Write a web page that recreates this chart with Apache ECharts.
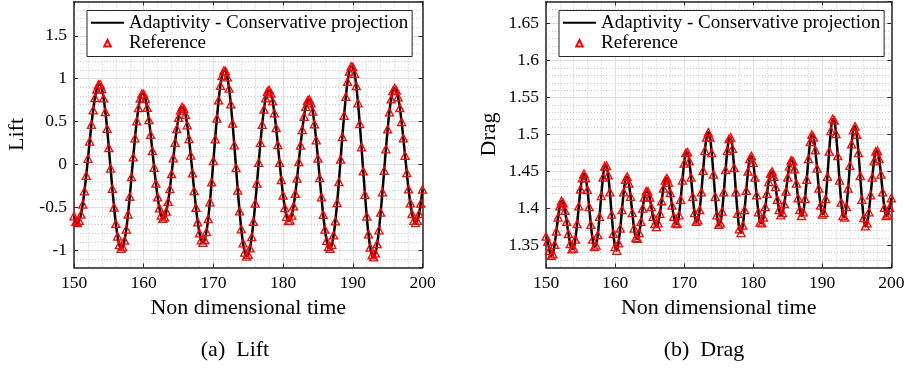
<!DOCTYPE html>
<html><head><meta charset="utf-8">
<script src="https://cdn.jsdelivr.net/npm/echarts@6/dist/echarts.min.js"></script>
<style>html,body{margin:0;padding:0;background:#fff}#c{width:909px;height:368px}</style>
</head><body><div id="c"></div>
<script>
// Sampling times (non dimensional time)
const time = [150,150.25,150.5,150.75,151,151.25,151.5,151.75,152,152.25,152.5,152.75,153,153.25,153.5,153.75,154,154.25,154.5,154.75,
155,155.25,155.5,155.75,156,156.25,156.5,156.75,157,157.25,157.5,157.75,158,158.25,158.5,158.75,159,159.25,159.5,159.75,
160,160.25,160.5,160.75,161,161.25,161.5,161.75,162,162.25,162.5,162.75,163,163.25,163.5,163.75,164,164.25,164.5,164.75,
165,165.25,165.5,165.75,166,166.25,166.5,166.75,167,167.25,167.5,167.75,168,168.25,168.5,168.75,169,169.25,169.5,169.75,
170,170.25,170.5,170.75,171,171.25,171.5,171.75,172,172.25,172.5,172.75,173,173.25,173.5,173.75,174,174.25,174.5,174.75,
175,175.25,175.5,175.75,176,176.25,176.5,176.75,177,177.25,177.5,177.75,178,178.25,178.5,178.75,179,179.25,179.5,179.75,
180,180.25,180.5,180.75,181,181.25,181.5,181.75,182,182.25,182.5,182.75,183,183.25,183.5,183.75,184,184.25,184.5,184.75,
185,185.25,185.5,185.75,186,186.25,186.5,186.75,187,187.25,187.5,187.75,188,188.25,188.5,188.75,189,189.25,189.5,189.75,
190,190.25,190.5,190.75,191,191.25,191.5,191.75,192,192.25,192.5,192.75,193,193.25,193.5,193.75,194,194.25,194.5,194.75,
195,195.25,195.5,195.75,196,196.25,196.5,196.75,197,197.25,197.5,197.75,198,198.25,198.5,198.75,199,199.25,199.5,199.75,200];

const lift = [-0.600,-0.665,-0.680,-0.655,-0.581,-0.464,-0.309,-0.128,0.070,0.271,0.464,0.635,0.776,0.875,0.931,0.935,0.882,0.773,0.615,0.418,
0.194,-0.044,-0.280,-0.500,-0.690,-0.836,-0.937,-0.979,-0.961,-0.885,-0.755,-0.580,-0.373,-0.145,0.087,0.309,0.505,0.661,0.772,0.825,
0.821,0.765,0.662,0.520,0.348,0.158,-0.035,-0.220,-0.380,-0.508,-0.593,-0.629,-0.613,-0.546,-0.433,-0.283,-0.109,0.076,0.256,0.417,
0.546,0.632,0.669,0.652,0.581,0.460,0.300,0.108,-0.099,-0.308,-0.503,-0.671,-0.799,-0.882,-0.910,-0.878,-0.784,-0.633,-0.437,-0.206,
0.044,0.297,0.538,0.750,0.920,1.037,1.095,1.088,1.018,0.887,0.703,0.479,0.227,-0.038,-0.300,-0.543,-0.752,-0.916,-1.023,-1.069,
-1.051,-0.974,-0.843,-0.666,-0.454,-0.221,0.021,0.254,0.466,0.643,0.774,0.851,0.869,0.830,0.738,0.600,0.427,0.229,0.022,-0.178,
-0.358,-0.504,-0.606,-0.656,-0.650,-0.592,-0.485,-0.339,-0.162,0.030,0.224,0.405,0.559,0.674,0.743,0.759,0.717,0.620,0.472,0.285,
0.071,-0.156,-0.379,-0.584,-0.757,-0.886,-0.961,-0.979,-0.933,-0.824,-0.659,-0.448,-0.203,0.059,0.322,0.571,0.790,0.965,1.086,1.145,
1.137,1.060,0.917,0.717,0.475,0.204,-0.078,-0.352,-0.603,-0.811,-0.966,-1.057,-1.079,-1.033,-0.926,-0.764,-0.558,-0.321,-0.070,0.180,
0.412,0.611,0.762,0.858,0.890,0.863,0.785,0.660,0.498,0.308,0.105,-0.098,-0.288,-0.450,-0.575,-0.653,-0.680,-0.654,-0.576,-0.453,-0.290];

const drag = [1.362,1.355,1.343,1.336,1.338,1.351,1.369,1.388,1.403,1.410,1.407,1.397,1.382,1.366,1.352,1.345,1.346,1.358,1.379,1.403,
1.426,1.441,1.447,1.441,1.425,1.402,1.378,1.358,1.348,1.350,1.364,1.389,1.417,1.442,1.457,1.458,1.445,1.422,1.392,1.366,
1.348,1.343,1.353,1.373,1.398,1.422,1.439,1.443,1.434,1.416,1.394,1.373,1.360,1.359,1.367,1.382,1.400,1.415,1.423,1.423,
1.415,1.402,1.389,1.379,1.375,1.380,1.393,1.410,1.427,1.438,1.441,1.435,1.421,1.404,1.389,1.380,1.379,1.391,1.412,1.438,
1.461,1.475,1.476,1.464,1.442,1.416,1.394,1.382,1.384,1.398,1.422,1.451,1.478,1.496,1.503,1.496,1.475,1.446,1.416,1.391,
1.378,1.380,1.396,1.422,1.452,1.478,1.494,1.496,1.481,1.455,1.422,1.393,1.372,1.367,1.377,1.398,1.424,1.450,1.467,1.471,
1.462,1.442,1.418,1.395,1.381,1.380,1.388,1.402,1.420,1.436,1.447,1.450,1.443,1.429,1.412,1.398,1.391,1.394,1.406,1.423,
1.442,1.457,1.465,1.464,1.453,1.434,1.414,1.398,1.390,1.395,1.413,1.439,1.467,1.490,1.500,1.496,1.479,1.454,1.427,1.404,
1.392,1.394,1.413,1.443,1.477,1.505,1.521,1.519,1.501,1.471,1.438,1.408,1.390,1.388,1.402,1.427,1.458,1.487,1.506,1.511,
1.500,1.475,1.444,1.412,1.387,1.376,1.380,1.395,1.418,1.442,1.464,1.477,1.478,1.467,1.446,1.422,1.401,1.390,1.392,1.401,1.414];

const seriesNames = ['Adaptivity - Conservative projection', 'Reference'];
const xLabel = 'Non dimensional time';
const yLabels = ['Lift', 'Drag'];
const captions = ['(a)  Lift', '(b)  Drag'];

const FONT = '"Liberation Serif", "DejaVu Serif", serif';
const AX = '#262626';
const MAJ = '#dedede';
const MIN = '#cacaca';

const grids = [
  {left: 74, top: 1.5, width: 348.5, height: 266},
  {left: 546, top: 1.5, width: 345.3, height: 266}
];
const yRange = [{min: -1.2, max: 1.9, split: 6, minor: 0.1}, {min: 1.32, max: 1.68, split: 7, minor: 0.01}];

const xAxis = [], yAxis = [], series = [], legend = [];
[lift, drag].forEach((vals, g) => {
  const xi = xAxis.length;
  xAxis.push({
    gridIndex: g, type: 'value', min: 150, max: 200, interval: 10, position: 'bottom',
    name: xLabel, nameLocation: 'middle', nameGap: 28,
    nameTextStyle: {fontFamily: FONT, fontSize: 22, color: '#000'},
    axisLine: {show: true, onZero: false, lineStyle: {color: AX, width: 1.5}},
    axisTick: {show: true, inside: true, length: 4, lineStyle: {color: AX, width: 1}},
    axisLabel: {fontFamily: FONT, fontSize: 17.5, color: '#000', margin: 7},
    splitLine: {show: true, lineStyle: {color: MAJ, width: 1}},
    minorTick: {show: false, splitNumber: 5},
    minorSplitLine: {show: true, lineStyle: {color: MIN, width: 1, type: [1, 2]}}
  });
  xAxis.push({
    gridIndex: g, type: 'value', min: 150, max: 200, interval: 10, position: 'top',
    axisLine: {show: true, onZero: false, lineStyle: {color: AX, width: 1.5}},
    axisTick: {show: true, inside: true, length: 4, lineStyle: {color: AX, width: 1}},
    axisLabel: {show: false}, splitLine: {show: false}
  });
  const r = yRange[g];
  // minor grid axis
  yAxis.push({
    gridIndex: g, type: 'value', min: r.min, max: r.max, interval: r.minor, position: 'right',
    axisLine: {show: false}, axisTick: {show: false}, axisLabel: {show: false},
    splitLine: {show: true, lineStyle: {color: MIN, width: 1, type: [1, 2]}}
  });
  const ymain = yAxis.length;
  yAxis.push({
    gridIndex: g, type: 'value', min: r.min, max: r.max, splitNumber: r.split, position: 'left',
    name: yLabels[g], nameLocation: 'middle', nameGap: 46,
    nameTextStyle: {fontFamily: FONT, fontSize: 22, color: '#000'},
    axisLine: {show: true, onZero: false, lineStyle: {color: AX, width: 1.5}},
    axisTick: {show: true, inside: true, length: 4, lineStyle: {color: AX, width: 1}},
    axisLabel: {fontFamily: FONT, fontSize: 17.5, color: '#000', margin: 7, showMinLabel: false, showMaxLabel: false},
    splitLine: {show: true, lineStyle: {color: MAJ, width: 1}}
  });
  yAxis.push({
    gridIndex: g, type: 'value', min: r.min, max: r.max, splitNumber: r.split, position: 'right',
    axisLine: {show: true, onZero: false, lineStyle: {color: AX, width: 1.5}},
    axisTick: {show: true, inside: true, length: 4, lineStyle: {color: AX, width: 1}},
    axisLabel: {show: false}, splitLine: {show: false}
  });
  const pts = time.map((t, i) => [t, vals[i]]);
  series.push({
    name: seriesNames[0], type: 'line', xAxisIndex: xi, yAxisIndex: ymain,
    data: pts, symbol: 'none', smooth: 0.3, lineStyle: {color: '#000', width: 2.5}, itemStyle: {color: '#000'},
    animation: false, z: 3
  });
  series.push({
    name: seriesNames[1], type: 'line', xAxisIndex: xi, yAxisIndex: ymain,
    data: pts, symbol: 'triangle', symbolSize: [8, 7.5], showSymbol: true,
    lineStyle: {width: 0, opacity: 0},
    itemStyle: {color: 'rgba(255,0,0,0)', borderColor: '#ff0000', borderWidth: 1.3},
    animation: false, z: 4
  });
  legend.push({
    left: grids[g].left + 13, top: 10.5, orient: 'vertical',
    itemWidth: 33, itemHeight: 8, itemGap: 0, itemTextGap: 5,
    padding: [2, 4, 3, 3],
    borderColor: AX, borderWidth: 1, backgroundColor: '#fff',
    selectedMode: false,
    textStyle: {fontFamily: FONT, fontSize: 19, color: '#000', lineHeight: 20.5},
    data: [
      {name: seriesNames[0], itemStyle: {opacity: 0}},
      {name: seriesNames[1]}
    ]
  });
});

const chart = echarts.init(document.getElementById('c'));
chart.setOption({
  animation: false,
  backgroundColor: '#fff',
  grid: grids.map(g => Object.assign({containLabel: false}, g)),
  xAxis, yAxis, series, legend,
  graphic: [
    {type: 'text', x: 235, y: 350, style: {text: captions[0], font: '22px ' + FONT, fill: '#000', align: 'center', verticalAlign: 'middle'}},
    {type: 'text', x: 704, y: 350, style: {text: captions[1], font: '22px ' + FONT, fill: '#000', align: 'center', verticalAlign: 'middle'}}
  ]
});
</script>
</body></html>
